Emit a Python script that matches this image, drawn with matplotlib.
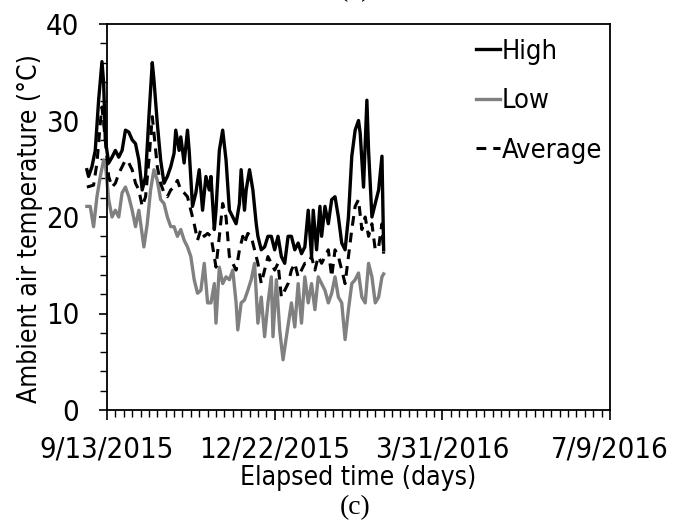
import numpy as np
import pandas as pd
import matplotlib
matplotlib.use('Agg')
import matplotlib.pyplot as plt
from matplotlib import font_manager


#-------------------------------------------------------------------
# data (day offsets from 9/13/2015, temperature in C)
start = pd.Timestamp('2015-09-13')

high_days = [-12, -11, -9, -7, -5, -3, -2, -1, 1, 3, 5, 7, 9, 11, 13, 15, 17, 19, 21, 23,
             25, 27, 28, 30, 32, 34, 36, 38, 40, 41, 43, 44, 46, 48, 49, 51, 53, 55, 57, 59,
             61, 62, 64, 65, 67, 69, 71, 73, 75, 77, 79, 80, 82, 83, 85, 87, 89, 90, 92, 94,
             96, 98, 100, 102, 104, 106, 108, 110, 112, 114, 116, 118, 120, 122, 123, 125, 127, 128, 130, 132,
             134, 136, 138, 140, 142, 144, 146, 148, 150, 151, 153, 155, 156, 158, 160, 162, 164, 165]
high_vals = [24.9, 24.2, 25.2, 26.9, 32.1, 36.1, 33.9, 28.0, 25.6, 26.2, 26.9, 26.2, 26.9, 29.0, 28.8, 28.0, 27.6, 25.9, 22.8, 24.2,
             30.4, 36.0, 34.2, 29.7, 25.9, 23.5, 24.2, 25.2, 26.6, 29.0, 26.9, 28.3, 25.6, 29.0, 26.9, 21.1, 22.5, 24.9, 20.7, 24.2,
             22.8, 24.2, 18.7, 20.7, 26.9, 29.0, 25.9, 20.7, 20.0, 19.3, 21.4, 24.9, 20.7, 22.8, 24.9, 22.8, 19.3, 18.0, 16.6, 16.9,
             18.0, 18.0, 16.6, 18.0, 15.9, 15.2, 18.0, 18.0, 16.6, 17.3, 16.2, 16.9, 20.7, 15.9, 20.7, 16.6, 21.1, 18.0, 21.1, 19.3,
             21.8, 22.1, 20.0, 17.3, 16.6, 20.0, 26.3, 29.0, 30.0, 28.7, 23.1, 32.1, 26.9, 20.0, 21.4, 22.8, 26.3, 16.6]

low_days = [-12, -10, -8, -6, -4, -2, -1, 1, 3, 5, 7, 9, 11, 13, 15, 17, 19, 22, 24, 26,
            28, 30, 32, 34, 36, 38, 40, 42, 44, 46, 48, 50, 52, 54, 56, 58, 60, 62, 64, 65,
            67, 69, 71, 73, 75, 77, 78, 80, 82, 84, 86, 88, 90, 92, 94, 96, 98, 99, 101, 103,
            105, 107, 110, 112, 114, 116, 118, 120, 122, 124, 126, 128, 130, 132, 134, 136, 138, 140, 142, 144,
            146, 148, 150, 152, 154, 156, 158, 160, 162, 164, 165]
low_vals = [21.1, 21.1, 19.0, 22.1, 24.2, 25.9, 25.6, 21.8, 20.0, 20.7, 20.0, 22.5, 23.1, 22.1, 20.7, 19.0, 20.7, 16.9, 19.3, 22.8,
            24.9, 23.8, 21.8, 21.4, 20.0, 19.0, 19.0, 18.0, 18.7, 17.6, 16.9, 15.9, 13.5, 12.1, 12.4, 15.2, 11.1, 11.1, 13.1, 9.0,
            14.8, 13.1, 13.8, 13.5, 14.5, 11.1, 8.3, 11.1, 11.4, 12.4, 13.5, 15.2, 9.0, 11.7, 7.6, 11.1, 13.8, 7.6, 13.5, 8.3,
            5.2, 7.6, 11.1, 8.6, 13.1, 9.0, 13.8, 11.1, 13.1, 10.4, 13.8, 13.1, 12.4, 11.1, 12.1, 13.8, 11.7, 11.1, 7.3, 10.4,
            13.1, 13.5, 14.2, 11.7, 11.1, 15.2, 13.8, 11.1, 11.7, 13.8, 14.1]

avg_days = [-12, -8, -6, -4, -3, -1, 1, 3, 5, 7, 9, 11, 13, 15, 17, 19, 21, 23, 25, 27,
            28, 30, 32, 34, 36, 38, 40, 42, 44, 46, 48, 50, 52, 54, 56, 58, 60, 62, 64, 65,
            67, 69, 71, 73, 75, 77, 79, 81, 82, 84, 86, 88, 90, 92, 94, 96, 98, 100, 102, 104,
            106, 108, 110, 112, 114, 116, 118, 120, 122, 124, 126, 128, 130, 132, 134, 136, 138, 140, 142, 144,
            146, 148, 150, 152, 154, 156, 158, 160, 162, 164, 165]
avg_vals = [23.1, 23.3, 25.6, 29.7, 31.4, 28.0, 24.2, 23.1, 23.5, 24.5, 25.2, 25.9, 25.6, 24.9, 23.5, 22.8, 21.1, 22.1, 25.9, 30.4,
            28.7, 25.2, 23.5, 22.5, 22.1, 22.8, 23.1, 23.8, 22.8, 22.5, 22.1, 20.7, 19.3, 17.6, 18.7, 18.0, 18.3, 18.0, 15.9, 14.8,
            18.0, 21.4, 20.0, 15.9, 15.2, 14.5, 16.6, 18.0, 17.3, 18.3, 18.0, 16.6, 15.2, 13.1, 14.5, 15.9, 15.2, 14.5, 15.2, 11.7,
            12.4, 13.1, 14.5, 15.2, 13.8, 14.5, 15.2, 15.2, 15.9, 14.5, 15.9, 15.2, 15.9, 16.6, 13.8, 16.6, 15.9, 14.5, 13.1, 15.9,
            18.7, 21.1, 21.8, 18.7, 20.0, 18.0, 19.3, 16.6, 16.9, 19.3, 16.2]

tick_days = [0, 100, 200, 300]


#-------------------------------------------------------------------
def to_dates(days):
    return start + pd.to_timedelta(days, unit='D')


def pick_font(size):
    # look for an installed narrow sans; otherwise plain DejaVu Sans
    wanted = ['LiberationSansNarrow-Regular', 'DejaVuSansCondensed.ttf', 'RobotoCondensed-Regular',
              'OpenSans_Condensed-Regular', 'NotoSans-Condensed.ttf', 'NotoSansDisplay-Condensed']
    files = [f.fname for f in font_manager.fontManager.ttflist]
    for w in wanted:
        for fn in files:
            if w in fn:
                return font_manager.FontProperties(fname=fn, size=size)
    return font_manager.FontProperties(family='DejaVu Sans', size=size * 0.82)


fp_tick = pick_font(21)
fp_lab = pick_font(19)
fp_leg = pick_font(19.5)

fig = plt.figure(figsize=(6.85, 5.26), dpi=100)
ax = fig.add_axes([107/685, 1-410/526, 503/685, 386/526])

ax.plot(to_dates(high_days), high_vals, color='black', lw=2.4, label='High', clip_on=False)
ax.plot(to_dates(low_days), low_vals, color='#808080', lw=2.4, label='Low', clip_on=False)
ax.plot(to_dates(avg_days), avg_vals, color='black', lw=2.2, dashes=(3.2, 2.3), label='Average', clip_on=False)

ax.set_xlim(to_dates([0])[0], to_dates([300])[0])
ax.set_ylim(0, 40)

major = list(to_dates(tick_days))
ax.set_xticks(major)
ax.set_xticklabels([f'{d.month}/{d.day}/{d.year}' for d in major], fontproperties=fp_tick)
ax.set_xticks(list(to_dates(np.arange(0, 301, 5))), minor=True)
ax.set_yticks([0, 10, 20, 30, 40])
ax.set_yticklabels(['0', '10', '20', '30', '40'], fontproperties=fp_tick)
ax.set_yticks(np.arange(0, 41, 2), minor=True)

ax.tick_params(axis='x', which='major', length=7, width=1.2, pad=11, direction='out')
ax.tick_params(axis='x', which='minor', length=5, width=1.0, direction='out')
ax.tick_params(axis='y', which='major', length=6, width=1.2, pad=14, direction='out')
ax.tick_params(axis='y', which='minor', length=5, width=1.0, direction='out')
for s in ax.spines.values():
    s.set_linewidth(1.3)

ax.set_xlabel('Elapsed time (days)', fontproperties=fp_lab)
ax.xaxis.set_label_coords(0.5, -(465 - 410) / 386)
ax.set_ylabel('Ambient air temperature (°C)', fontproperties=fp_lab)
ax.yaxis.set_label_coords(-(107 - 43) / 503, (410 - 229) / 386)

leg = ax.legend(prop=fp_leg, frameon=False, loc='upper right', bbox_to_anchor=(0.984, 0.962),
                handlelength=0.9, handletextpad=0.05, labelspacing=0.87, borderaxespad=0, borderpad=0)

fig.text(355/685, 1-508/526, '(c)', family='Liberation Serif', fontsize=20, ha='center', va='center')
fig.text(355/685, 1+4/526, '(b)', family='Liberation Serif', fontsize=20, ha='center', va='baseline')

fig.savefig('out.png', dpi=100)
